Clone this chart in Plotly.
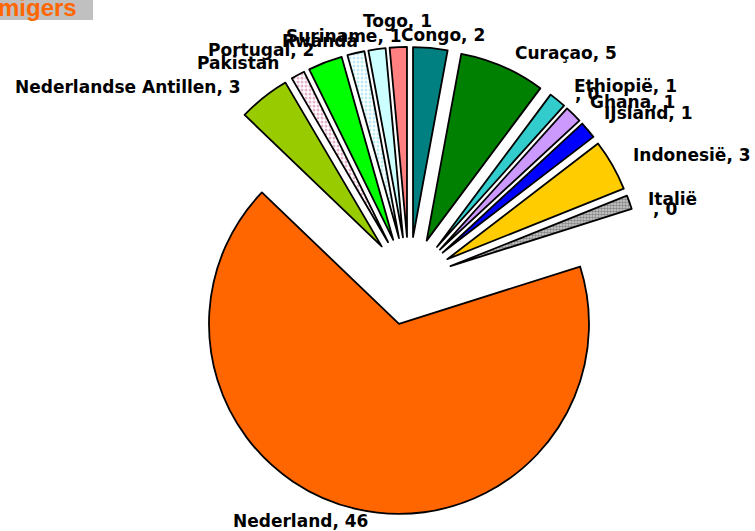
import plotly.graph_objects as go

# ---- data ----
countries = ["Congo", "Curaçao", "Ethiopië", "Ghana", "IJsland", "Indonesië", "Italië",
             "Nederland", "Nederlandse Antillen", "Pakistan", "Portugal", "Rwanda",
             "Suriname", "Togo"]
values = [2, 5, 1, 1, 1, 3, 0.8, 46, 3, 0.8, 2, 1, 1, 1]
shown_values = [2, 5, 1, 1, 1, 3, 0, 46, 3, 1, 2, 1, 1, 1]
title_text = "migers"

# ---- styles ----
colors = ["#008080", "#008000", "#33CCCC", "#CC99FF", "#0000FF", "#FFCC00", "#D0D0D0",
          "#FF6600", "#99CC00", "#FFFFFF", "#00FF00", "#FFFFFF", "#CCFFFF", "#FF8080"]
pat_shape = ["", "", "", "", "", "", ".", "", "", ".", "", ".", "", ""]
pat_fg = ["black"] * 6 + ["#404040"] + ["black"] * 2 + ["#CC6699", "black", "#77D8E8", "black", "black"]
pat_size = [8] * 6 + [3] + [8, 8, 4, 8, 4, 8, 8]
pat_sol = [0.3] * 6 + [0.55] + [0.3, 0.3, 0.45, 0.3, 0.45, 0.3, 0.3]

W, H = 755, 531
cx, cy = 409, 281      # pie centre (px)
r = 190                # radius (px)
pull = 0.232
half = r * (1 + pull)

fig = go.Figure(go.Pie(
    labels=countries, values=values, sort=False, direction="clockwise", rotation=0,
    pull=pull, textinfo="none", showlegend=False,
    marker=dict(colors=colors, line=dict(color="black", width=1.8),
                pattern=dict(shape=pat_shape, fgcolor=pat_fg, size=pat_size,
                             solidity=pat_sol, fillmode="overlay")),
    domain=dict(x=[(cx - half) / W, (cx + half) / W],
                y=[1 - (cy + half) / H, 1 - (cy - half) / H]),
))

# label texts built from data
def lab(i, with_value=True):
    return f"{countries[i]}, {shown_values[i]}" if with_value else countries[i]

label_items = [
    (lab(0), 443, 35),
    (lab(1), 566, 53),
    (lab(2), 625, 86),
    (", 0", 587, 94),
    (lab(3), 632, 102),
    (lab(4), 648, 113),
    (lab(5), 692, 155),
    (countries[6], 672, 199),
    (f", {shown_values[6]}", 665, 209),
    (lab(7), 300, 521),
    (lab(8), 128, 87),
    (lab(9, False), 238, 63),
    (lab(10), 261, 50),
    (lab(11, False), 320, 41),
    (lab(12), 344, 36),
    (lab(13), 397, 21),
]

annotations = []
for txt, x, y in label_items:
    annotations.append(dict(
        text=f"<b>{txt}</b>", x=x / W, y=1 - y / H, xref="paper", yref="paper",
        xanchor="center", yanchor="middle", showarrow=False,
        font=dict(family="DejaVu Sans", size=17, color="black")))

annotations.append(dict(
    text=f"<b>{title_text}</b>", x=78 / W, y=1 - 22 / H, xref="paper", yref="paper",
    xanchor="right", yanchor="bottom", showarrow=False, borderpad=0,
    font=dict(family="Liberation Sans", size=24, color="#FF6600")))

fig.update_layout(
    width=W, height=H, margin=dict(l=0, r=0, t=0, b=0),
    paper_bgcolor="white", plot_bgcolor="white",
    annotations=annotations,
    shapes=[dict(type="rect", xref="paper", yref="paper", x0=-0.01, x1=93 / W,
                 y0=1 - 20 / H, y1=1.05, fillcolor="#C0C0C0", line=dict(width=0),
                 layer="below")],
)

fig.write_html("out.html", config={"displayModeBar": False},
               post_script="document.body.style.margin='0';document.body.style.overflow='hidden';")
